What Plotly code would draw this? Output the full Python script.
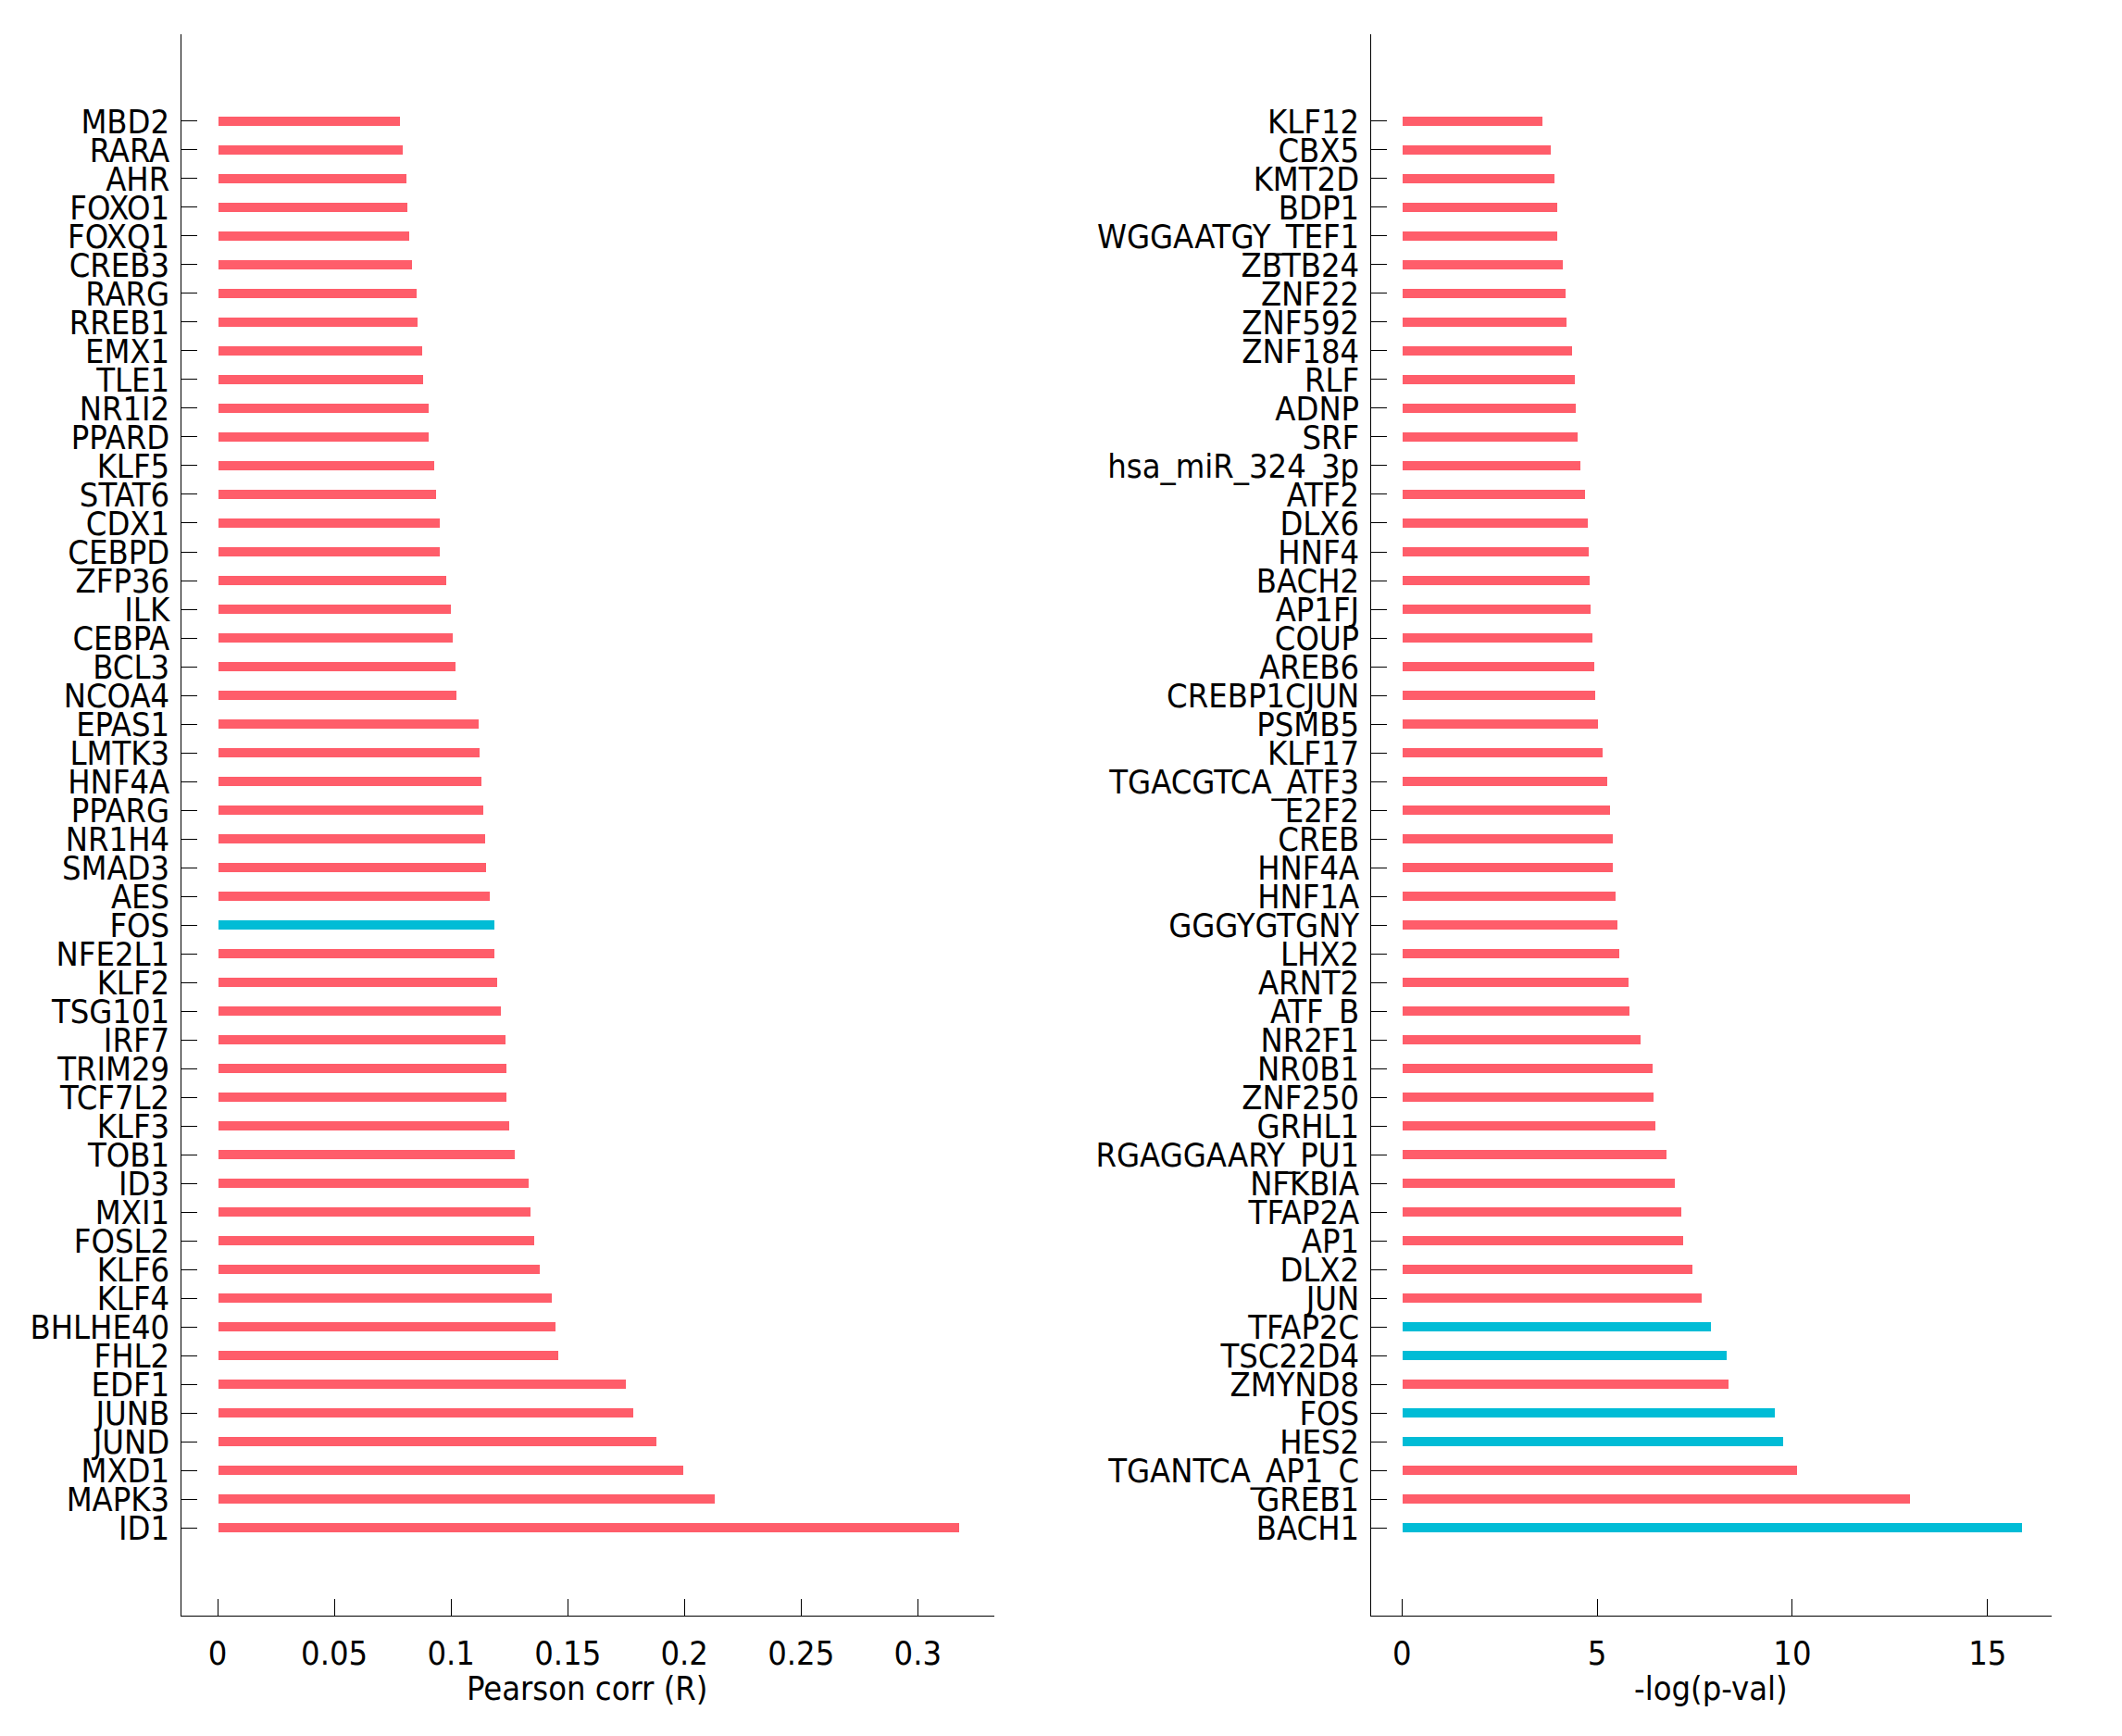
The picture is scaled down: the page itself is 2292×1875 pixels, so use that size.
import plotly.graph_objects as go

# Left panel: Pearson correlation (top to bottom as shown)
corr_genes = ["MBD2", "RARA", "AHR", "FOXO1", "FOXQ1", "CREB3", "RARG", "RREB1", "EMX1", "TLE1",
              "NR1I2", "PPARD", "KLF5", "STAT6", "CDX1", "CEBPD", "ZFP36", "ILK", "CEBPA", "BCL3",
              "NCOA4", "EPAS1", "LMTK3", "HNF4A", "PPARG", "NR1H4", "SMAD3", "AES", "FOS", "NFE2L1",
              "KLF2", "TSG101", "IRF7", "TRIM29", "TCF7L2", "KLF3", "TOB1", "ID3", "MXI1", "FOSL2",
              "KLF6", "KLF4", "BHLHE40", "FHL2", "EDF1", "JUNB", "JUND", "MXD1", "MAPK3", "ID1"]
corr_values = [0.0780, 0.0792, 0.0808, 0.0810, 0.0820, 0.0830, 0.0849, 0.0855, 0.0875, 0.0880,
               0.0902, 0.0902, 0.0926, 0.0935, 0.0950, 0.0950, 0.0978, 0.0996, 0.1005, 0.1017,
               0.1023, 0.1115, 0.1121, 0.1127, 0.1136, 0.1145, 0.1148, 0.1164, 0.1182, 0.1185,
               0.1197, 0.1212, 0.1231, 0.1234, 0.1234, 0.1249, 0.1270, 0.1331, 0.1340, 0.1355,
               0.1377, 0.1429, 0.1447, 0.1456, 0.1748, 0.1779, 0.1879, 0.1995, 0.2129, 0.3174]
corr_highlight = ["FOS"]
corr_title = "Pearson corr (R)"

# Right panel: -log(p-val) (top to bottom as shown)
pval_genes = ["KLF12", "CBX5", "KMT2D", "BDP1", "WGGAATGY_TEF1", "ZBTB24", "ZNF22", "ZNF592", "ZNF184", "RLF",
              "ADNP", "SRF", "hsa_miR_324_3p", "ATF2", "DLX6", "HNF4", "BACH2", "AP1FJ", "COUP", "AREB6",
              "CREBP1CJUN", "PSMB5", "KLF17", "TGACGTCA_ATF3", "E2F2", "CREB", "HNF4A", "HNF1A", "GGGYGTGNY", "LHX2",
              "ARNT2", "ATF_B", "NR2F1", "NR0B1", "ZNF250", "GRHL1", "RGAGGAARY_PU1", "NFKBIA", "TFAP2A", "AP1",
              "DLX2", "JUN", "TFAP2C", "TSC22D4", "ZMYND8", "FOS", "HES2", "TGANTCA_AP1_C", "GREB1", "BACH1"]
pval_values = [3.58, 3.81, 3.90, 3.96, 3.97, 4.12, 4.19, 4.21, 4.35, 4.42,
               4.44, 4.50, 4.55, 4.68, 4.75, 4.78, 4.80, 4.82, 4.87, 4.91,
               4.93, 5.02, 5.14, 5.25, 5.31, 5.40, 5.40, 5.45, 5.50, 5.56,
               5.79, 5.81, 6.10, 6.40, 6.44, 6.47, 6.76, 6.98, 7.14, 7.19,
               7.43, 7.66, 7.90, 8.31, 8.35, 9.55, 9.75, 10.11, 12.99, 15.88]
pval_highlight = ["TFAP2C", "TSC22D4", "FOS", "HES2", "BACH1"]
pval_title = "-log(p-val)"

corr_ticks = [0, 0.05, 0.1, 0.15, 0.2, 0.25, 0.3]
corr_ticktext = ["0", "0.05", "0.1", "0.15", "0.2", "0.25", "0.3"]
pval_ticks = [0, 5, 10, 15]
pval_ticktext = ["0", "5", "10", "15"]

RED = "#ff5d6a"
CYAN = "#00bcd6"
FONT = "DejaVu Sans Condensed, DejaVu Sans"
FS = 36

# The page body has an 8px margin, so the figure is sized to fit inside it
W, H = 2276, 1859
MT, MB = 29, 122
PLOT_H = H - MT - MB

def colors(names, hl):
    return [CYAN if n in hl else RED for n in names]

fig = go.Figure()
fig.add_trace(go.Bar(x=corr_values, y=corr_genes, orientation="h", width=0.3,
                     marker=dict(color=colors(corr_genes, corr_highlight), line=dict(width=0)),
                     xaxis="x", yaxis="y", showlegend=False))
fig.add_trace(go.Bar(x=pval_values, y=pval_genes, orientation="h", width=0.3,
                     marker=dict(color=colors(pval_genes, pval_highlight), line=dict(width=0)),
                     xaxis="x2", yaxis="y2", showlegend=False))

n = len(corr_genes)
yr = [-3.06, n - 1 + 3.03]

common_x = dict(showline=True, linecolor="black", linewidth=1.3, ticks="inside", ticklen=18,
                tickwidth=1.2, tickcolor="black", showgrid=False, zeroline=False,
                tickfont=dict(family=FONT, size=FS, color="black"), ticklabelstandoff=9)
common_y = dict(showline=True, linecolor="black", linewidth=1.3, ticks="inside", ticklen=17,
                tickwidth=1.2, tickcolor="black", showgrid=False, zeroline=False,
                type="category", range=yr, tickmode="array",
                tickfont=dict(family=FONT, size=FS, color="black"), ticklabelstandoff=4)

dom1 = [187.5 / W, 1065.5 / W]
dom2 = [1472.5 / W, 2207.5 / W]

fig.update_layout(
    width=W, height=H,
    paper_bgcolor="white", plot_bgcolor="white",
    margin=dict(l=0, r=0, t=MT, b=MB),
    font=dict(family=FONT, color="black"),
    bargap=0,
    xaxis=dict(domain=dom1, range=[-0.0157, 0.3326],
               tickvals=corr_ticks, ticktext=corr_ticktext, anchor="y", **common_x),
    yaxis=dict(anchor="x", categoryorder="array", categoryarray=corr_genes[::-1],
               tickvals=corr_genes, ticktext=corr_genes, **common_y),
    xaxis2=dict(domain=dom2, range=[-0.80, 16.63],
                tickvals=pval_ticks, ticktext=pval_ticktext, anchor="y2", **common_x),
    yaxis2=dict(anchor="x2", categoryorder="array", categoryarray=pval_genes[::-1],
                tickvals=pval_genes, ticktext=pval_genes, **common_y),
)

title_y = -78 / PLOT_H
for text, dom in ((corr_title, dom1), (pval_title, dom2)):
    fig.add_annotation(text=text, xref="paper", yref="paper", x=(dom[0] + dom[1]) / 2, y=title_y,
                       xanchor="center", yanchor="middle", showarrow=False,
                       font=dict(family=FONT, size=FS, color="black"))

fig.write_html("out.html")
